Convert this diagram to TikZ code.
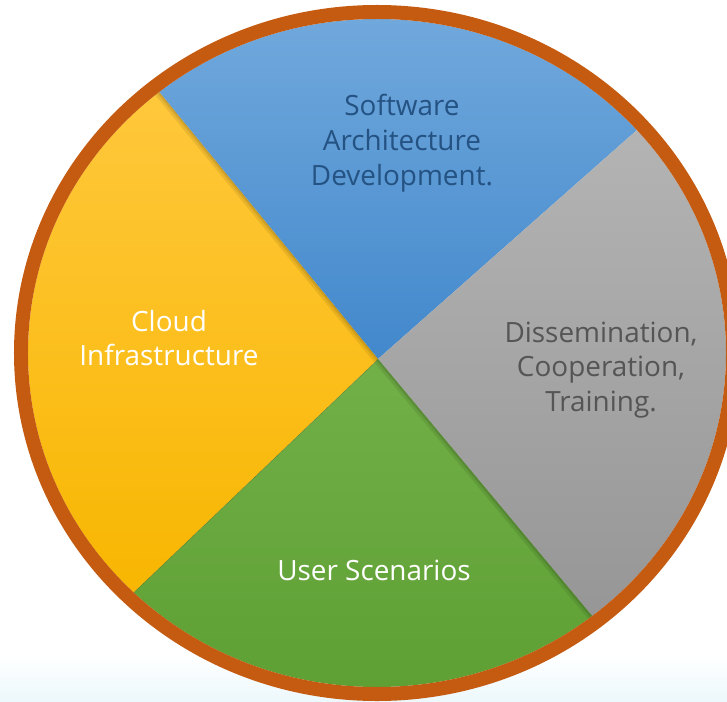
\documentclass[tikz,border=0pt]{standalone}
\usepackage{fontspec}
\setmainfont{Open Sans}
\definecolor{bgc}{RGB}{236,248,252}
\definecolor{bordc}{RGB}{197,90,17}
\definecolor{blueT}{RGB}{112,168,220}
\definecolor{blueB}{RGB}{66,136,204}
\definecolor{yelT}{RGB}{255,200,60}
\definecolor{yelB}{RGB}{248,182,0}
\definecolor{grayT}{RGB}{180,180,180}
\definecolor{grayB}{RGB}{150,150,150}
\definecolor{greenT}{RGB}{114,176,72}
\definecolor{greenB}{RGB}{94,160,52}
\definecolor{bluetxt}{RGB}{36,82,130}
\definecolor{graytxt}{RGB}{85,85,85}
\begin{document}
\begin{tikzpicture}[x=1bp,y=-1bp,
  lbl/.style={align=center, font=\fontsize{28}{35}\selectfont, inner sep=0pt},
  shadowline/.style={black, opacity=0.08}]
\useasboundingbox (0,0) rectangle (727,702);
\shade[top color=white, bottom color=bgc] (0,655) rectangle (727,702);
\coordinate (P) at (378,359);
\coordinate (E1) at (-58,-173);
\coordinate (E2) at (896,-99);
\coordinate (E3) at (808,875);
\coordinate (E4) at (-112,827);
% blue
\begin{scope}
  \clip (377,353) ellipse [x radius=349bp, y radius=334bp];
  \clip (P) -- (E1) -- (E2) -- cycle;
  \shade[top color=blueT, bottom color=blueB] (150,19) rectangle (650,360);
\end{scope}
% gray
\begin{scope}
  \clip (377,353) ellipse [x radius=349bp, y radius=334bp];
  \clip (P) -- (E2) -- (E3) -- cycle;
  \shade[top color=grayT, bottom color=grayB] (370,125) rectangle (730,620);
\end{scope}
% green
\begin{scope}
  \clip (377,353) ellipse [x radius=349bp, y radius=334bp];
  \clip (P) -- (E3) -- (E4) -- cycle;
  \shade[top color=greenT, bottom color=greenB] (120,355) rectangle (610,690);
\end{scope}
% yellow
\begin{scope}
  \clip (377,353) ellipse [x radius=349bp, y radius=334bp];
  \clip (P) -- (E4) -- (E1) -- cycle;
  \shade[top color=yelT, bottom color=yelB] (25,90) rectangle (380,600);
  \draw[shadowline, line width=10bp] (P) -- (E1);
  \draw[shadowline, line width=5bp] (P) -- (E1);
  \draw[shadowline, line width=2bp] (P) -- (E1);
\end{scope}
% green shadow
\begin{scope}
  \clip (377,353) ellipse [x radius=349bp, y radius=334bp];
  \clip (P) -- (E3) -- (E4) -- cycle;
  \draw[shadowline, line width=10bp] (P) -- (E3);
  \draw[shadowline, line width=5bp] (P) -- (E3);
  \draw[shadowline, line width=2bp] (P) -- (E3);
  \draw[black, opacity=0.25, line width=0.8bp] (P) -- (E4);
\end{scope}
% border
\draw[bordc, line width=14bp] (377,353) ellipse [x radius=356bp, y radius=341bp];
% labels
\node[lbl, text=bluetxt] (sw) at (402,143) {Software\\Architecture\\Development.};
\node[lbl, text=white] (cl) at (169,338) {Cloud\\Infrastructure};
\node[lbl, text=graytxt] (dc) at (601,370) {Dissemination,\\Cooperation,\\Training.};
\node[lbl, text=white] (us) at (374,570) {User Scenarios};
\end{tikzpicture}
\end{document}
